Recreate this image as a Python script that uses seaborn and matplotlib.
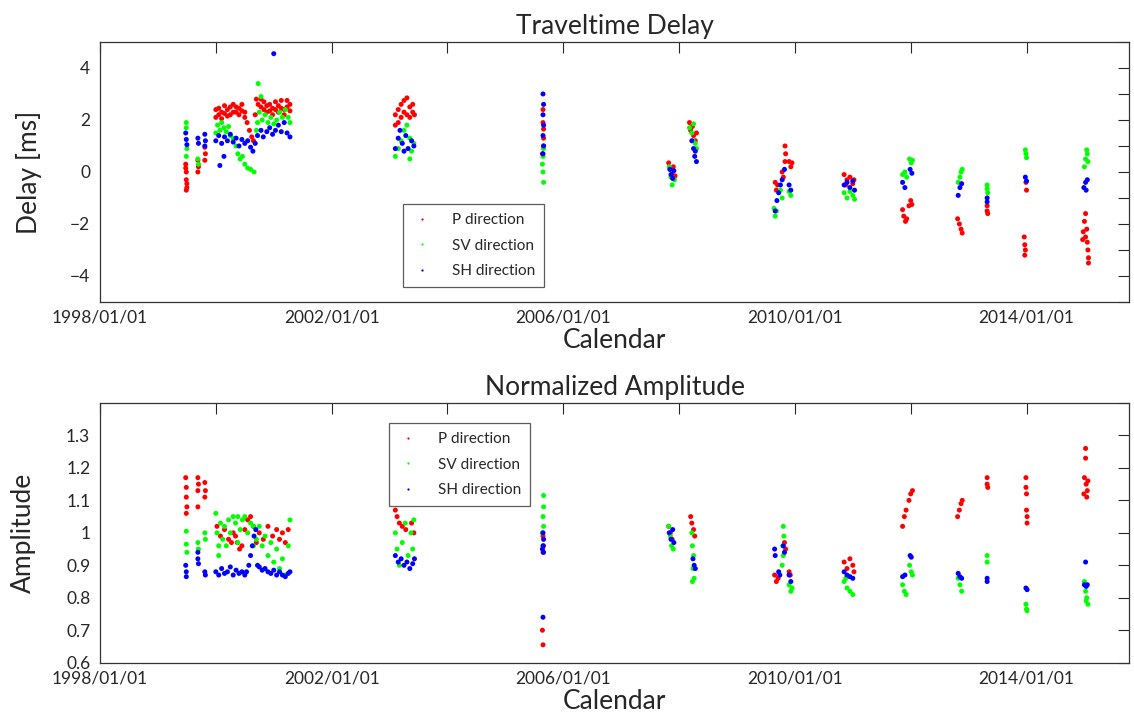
import pandas as pd
import seaborn as sns
import matplotlib.pyplot as plt
from matplotlib.ticker import FixedLocator, FuncFormatter

# (decimal year, delay in ms)
delay_p = [
    (1999.48, 0.3), (1999.49, 0.0), (1999.49, -0.3), (1999.50, -0.6), (1999.49, -0.7), (1999.48, 0.15), (1999.50, -0.45),
    (1999.69, 0.45), (1999.70, 0.2), (1999.69, 0.0),
    (1999.81, 0.95), (1999.82, 0.7), (1999.81, 0.45),
    (2000.00, 2.1), (2000.00, 2.4), (2000.05, 2.2), (2000.05, 2.45), (2000.10, 2.3), (2000.10, 2.05),
    (2000.15, 2.25), (2000.15, 2.55), (2000.20, 2.4), (2000.20, 2.15), (2000.25, 2.5), (2000.25, 2.2),
    (2000.30, 2.6), (2000.30, 2.3), (2000.35, 2.3), (2000.35, 2.5), (2000.40, 2.2), (2000.40, 2.45),
    (2000.45, 2.35), (2000.45, 2.6), (2000.50, 2.3), (2000.50, 2.1),
    (2000.54, 1.9), (2000.58, 1.6), (2000.62, 1.35), (2000.65, 1.2),
    (2000.68, 2.2), (2000.70, 2.8), (2000.73, 2.6), (2000.78, 2.5), (2000.78, 2.8), (2000.83, 2.4), (2000.83, 2.7),
    (2000.88, 2.3), (2000.88, 2.55), (2000.93, 2.35), (2000.93, 2.6), (2000.98, 2.2), (2000.98, 2.45),
    (2001.03, 2.4), (2001.03, 2.7), (2001.08, 2.3), (2001.08, 2.55), (2001.13, 2.45), (2001.13, 2.75),
    (2001.18, 2.4), (2001.18, 2.2), (2001.23, 2.5), (2001.23, 2.75), (2001.28, 2.35), (2001.28, 2.6),
    (2003.10, 1.8), (2003.10, 2.2), (2003.15, 1.9), (2003.15, 2.4), (2003.20, 2.1), (2003.20, 2.6),
    (2003.25, 2.3), (2003.25, 2.75), (2003.30, 2.2), (2003.30, 2.85), (2003.35, 2.5), (2003.35, 2.1),
    (2003.40, 2.3), (2003.40, 2.6), (2003.43, 2.2),
    (2005.65, 2.4), (2005.66, 1.65), (2005.65, 1.9), (2005.66, 1.0), (2005.64, 0.7), (2005.66, 1.3),
    (2007.82, 0.35), (2007.85, 0.1), (2007.88, -0.1), (2007.90, 0.2), (2007.93, -0.15),
    (2008.18, 1.9), (2008.20, 1.6), (2008.23, 1.75), (2008.25, 1.4), (2008.28, 1.2), (2008.30, 1.5),
    (2009.66, -0.4), (2009.68, -0.7), (2009.70, -0.5), (2009.78, 0.0), (2009.80, -0.2), (2009.83, 1.0),
    (2009.84, 0.7), (2009.83, 0.4), (2009.90, 0.4), (2009.93, 0.2), (2009.95, 0.35),
    (2010.85, -0.1), (2010.90, -0.3), (2010.95, -0.2), (2011.00, -0.45), (2011.02, -0.3), (2010.88, -0.5),
    (2011.86, -1.45), (2011.88, -1.7), (2011.91, -1.9), (2011.93, -1.8), (2011.97, -1.3), (2012.00, -1.1), (2012.02, -1.25),
    (2012.81, -1.8), (2012.84, -2.0), (2012.87, -2.2), (2012.89, -2.35),
    (2013.32, -1.3), (2013.32, -1.5), (2013.33, -1.6),
    (2013.99, -0.4), (2014.00, -0.7), (2013.96, -2.5), (2013.97, -2.8), (2013.98, -3.0), (2013.97, -3.2),
    (2015.02, -1.6), (2015.00, -1.9), (2014.98, -2.3), (2015.02, -2.5), (2015.05, -2.7), (2014.97, -2.6),
    (2015.04, -2.2), (2015.06, -3.0), (2015.07, -3.3), (2015.07, -3.5),
]
delay_sv = [
    (1999.49, 1.9), (1999.49, 1.7), (1999.50, 0.9), (1999.49, 0.6),
    (1999.69, 0.5), (1999.70, 0.3),
    (2000.00, 1.5), (2000.03, 1.8), (2000.07, 1.6), (2000.10, 1.9), (2000.14, 1.7), (2000.18, 1.55),
    (2000.22, 1.75), (2000.25, 1.4),
    (2000.30, 1.3), (2000.35, 1.0), (2000.38, 0.7), (2000.42, 0.5), (2000.46, 0.6), (2000.50, 0.3),
    (2000.55, 0.15), (2000.60, 0.1), (2000.66, 0.0),
    (2000.70, 1.6), (2000.72, 1.9), (2000.75, 2.3), (2000.80, 2.0), (2000.85, 2.2), (2000.90, 1.9),
    (2000.95, 2.1), (2001.00, 1.85), (2001.05, 2.0), (2001.10, 2.3), (2001.15, 2.1), (2001.20, 2.4),
    (2001.25, 2.1), (2001.28, 1.9), (2000.73, 3.4), (2000.78, 2.9),
    (2003.10, 0.6), (2003.15, 0.9), (2003.20, 1.2), (2003.25, 1.6), (2003.30, 1.8), (2003.35, 1.3),
    (2003.38, 0.8), (2003.42, 1.1), (2003.35, 0.5),
    (2005.66, 0.9), (2005.65, 0.6), (2005.64, 0.3), (2005.65, 0.0), (2005.66, -0.4),
    (2007.83, 0.2), (2007.86, -0.2), (2007.88, -0.5), (2007.92, -0.3),
    (2008.18, 1.7), (2008.22, 1.5), (2008.25, 1.85), (2008.28, 1.1), (2008.30, 0.9), (2008.24, 1.2),
    (2009.64, -1.4), (2009.66, -1.7), (2009.68, -1.5), (2009.75, -0.7), (2009.78, -1.0), (2009.90, -0.75), (2009.93, -0.9),
    (2010.85, -0.8), (2010.90, -1.0), (2010.95, -0.75), (2011.00, -0.9), (2011.03, -1.05),
    (2011.86, -0.1), (2011.90, 0.0), (2011.93, -0.2), (2011.98, 0.5), (2012.01, 0.35), (2012.03, 0.45),
    (2012.82, -0.4), (2012.85, -0.2), (2012.87, 0.0), (2012.89, 0.1),
    (2013.32, -0.5), (2013.32, -0.65), (2013.33, -0.8),
    (2013.98, 0.85), (2013.99, 0.7), (2014.00, 0.55),
    (2015.00, 0.2), (2015.02, 0.5), (2015.04, 0.85), (2015.06, 0.4), (2015.05, 0.7),
]
delay_sh = [
    (1999.48, 1.5), (1999.49, 1.25), (1999.50, 1.05),
    (1999.69, 1.3), (1999.70, 1.1),
    (1999.81, 1.45), (1999.82, 1.2), (1999.81, 1.0),
    (2000.00, 1.2), (2000.05, 1.4), (2000.10, 1.1), (2000.15, 1.35), (2000.20, 1.2), (2000.25, 1.45),
    (2000.30, 1.15), (2000.35, 1.3), (2000.40, 1.0), (2000.45, 1.25), (2000.50, 1.1), (2000.55, 1.2),
    (2000.60, 0.95), (2000.64, 0.8), (2000.68, 1.1), (2000.72, 1.4), (2000.78, 1.6), (2000.82, 1.35),
    (2000.88, 1.55), (2000.93, 1.7), (2000.98, 1.45), (2001.03, 1.6), (2001.08, 1.8), (2001.13, 1.55),
    (2001.18, 1.9), (2001.23, 1.5), (2001.28, 1.35), (2001.00, 4.55), (2000.07, 0.25), (2000.14, 0.6),
    (2003.10, 0.9), (2003.15, 1.3), (2003.18, 1.6), (2003.22, 1.1), (2003.28, 1.4), (2003.32, 0.9),
    (2003.38, 1.2), (2003.42, 1.0), (2003.25, 0.8),
    (2005.65, 3.0), (2005.66, 2.6), (2005.65, 2.2), (2005.66, 1.8), (2005.65, 1.4), (2005.66, 1.0), (2005.65, 0.7),
    (2007.84, 0.1), (2007.86, -0.1), (2007.89, -0.25), (2007.91, 0.05),
    (2008.22, 1.2), (2008.25, 0.9), (2008.27, 0.6), (2008.30, 0.4), (2008.28, 0.8),
    (2009.66, -1.5), (2009.69, -1.1), (2009.72, -0.8), (2009.75, -0.5), (2009.78, -0.3), (2009.82, 0.1),
    (2009.90, -0.5), (2009.93, -0.7),
    (2010.85, -0.5), (2010.90, -0.4), (2010.95, -0.6), (2011.00, -0.35), (2011.03, -0.7),
    (2011.86, -0.4), (2011.90, -0.6), (2011.99, 0.1), (2012.02, -0.05),
    (2012.82, -0.9), (2012.85, -0.6), (2012.88, -0.45),
    (2013.32, -1.0), (2013.32, -1.15),
    (2013.98, -0.2), (2014.00, -0.35),
    (2014.99, -0.6), (2015.02, -0.4), (2015.05, -0.3), (2015.03, -0.7),
]

# (decimal year, normalized amplitude)
amp_p = [
    (1999.48, 1.17), (1999.49, 1.14), (1999.49, 1.11), (1999.50, 1.08), (1999.49, 1.06),
    (1999.69, 1.17), (1999.70, 1.15), (1999.69, 1.13), (1999.69, 1.08),
    (1999.81, 1.155), (1999.82, 1.13), (1999.81, 1.11),
    (2000.02, 1.02), (2000.08, 0.99), (2000.15, 1.01), (2000.22, 0.98), (2000.27, 0.97), (2000.30, 1.0),
    (2000.34, 0.99), (2000.37, 0.97), (2000.41, 0.95), (2000.45, 0.96), (2000.50, 1.01), (2000.55, 1.04),
    (2000.60, 1.05), (2000.65, 1.02), (2000.70, 0.97), (2000.75, 1.0), (2000.82, 0.98), (2000.90, 1.02),
    (2000.98, 0.99), (2001.05, 1.01), (2001.10, 0.98), (2001.15, 1.0), (2001.20, 0.97), (2001.25, 1.01),
    (2003.10, 1.07), (2003.13, 1.05), (2003.17, 1.03), (2003.22, 1.02), (2003.28, 1.01), (2003.38, 1.03), (2003.42, 1.0),
    (2005.65, 0.99), (2005.66, 0.96), (2005.65, 0.94), (2005.64, 0.70), (2005.65, 0.655),
    (2007.82, 1.02), (2007.85, 1.0), (2007.88, 0.98),
    (2008.20, 1.05), (2008.22, 1.03), (2008.25, 1.01), (2008.27, 0.99),
    (2009.65, 0.87), (2009.68, 0.85), (2009.71, 0.86), (2009.82, 0.97), (2009.84, 0.95), (2009.90, 0.88), (2009.92, 0.87),
    (2010.85, 0.91), (2010.90, 0.89), (2010.95, 0.92), (2011.00, 0.9), (2011.02, 0.88),
    (2011.86, 1.02), (2011.89, 1.05), (2011.92, 1.07), (2011.97, 1.10), (2012.00, 1.12), (2012.03, 1.13),
    (2012.81, 1.05), (2012.84, 1.07), (2012.87, 1.09), (2012.89, 1.1),
    (2013.32, 1.17), (2013.32, 1.15), (2013.33, 1.14),
    (2013.99, 1.17), (2013.99, 1.14), (2014.00, 1.12), (2014.00, 1.07), (2014.01, 1.05), (2014.01, 1.03),
    (2015.02, 1.26), (2015.02, 1.23), (2015.00, 1.17), (2015.03, 1.15), (2015.05, 1.13), (2014.99, 1.12),
    (2015.06, 1.16), (2015.04, 1.11),
]
amp_sv = [
    (1999.49, 1.005), (1999.49, 0.965), (1999.50, 0.94),
    (1999.69, 0.97), (1999.70, 0.95),
    (1999.81, 1.0), (1999.82, 0.98),
    (2000.00, 1.06), (2000.02, 1.0), (2000.05, 0.96), (2000.08, 1.03), (2000.12, 0.98), (2000.15, 1.02),
    (2000.18, 0.96), (2000.22, 1.04), (2000.25, 1.0), (2000.30, 1.05), (2000.34, 1.03), (2000.38, 1.05),
    (2000.42, 1.01), (2000.46, 1.04), (2000.50, 1.05), (2000.55, 1.0), (2000.60, 1.03), (2000.65, 1.02),
    (2000.70, 0.98), (2000.75, 1.02), (2000.80, 0.96), (2000.85, 0.99), (2000.90, 0.93), (2000.95, 0.97),
    (2001.00, 0.91), (2001.05, 0.95), (2001.10, 0.89), (2001.15, 0.92), (2001.20, 0.87), (2001.25, 0.96),
    (2001.28, 1.04), (2000.05, 0.93), (2000.38, 0.97), (2000.65, 0.96),
    (2003.10, 1.0), (2003.13, 0.95), (2003.17, 0.9), (2003.22, 0.97), (2003.27, 1.03), (2003.32, 0.93),
    (2003.37, 1.0), (2003.42, 1.04), (2003.40, 0.95),
    (2005.66, 1.115), (2005.66, 1.08), (2005.65, 1.05), (2005.66, 1.02), (2005.64, 1.0),
    (2007.82, 1.02), (2007.85, 0.99), (2007.87, 0.96), (2007.90, 0.95),
    (2008.22, 1.0), (2008.23, 0.96), (2008.25, 0.93), (2008.24, 0.89), (2008.26, 0.86), (2008.23, 0.85),
    (2009.80, 1.02), (2009.81, 0.99), (2009.79, 0.96), (2009.80, 0.93), (2009.78, 0.9), (2009.90, 0.84),
    (2009.93, 0.82), (2009.95, 0.83),
    (2010.85, 0.85), (2010.90, 0.83), (2010.95, 0.82), (2011.00, 0.81), (2010.88, 0.86),
    (2011.86, 0.84), (2011.89, 0.82), (2011.92, 0.81), (2011.98, 0.9), (2012.01, 0.88), (2012.03, 0.87),
    (2012.82, 0.86), (2012.85, 0.84), (2012.88, 0.82),
    (2013.32, 0.93), (2013.32, 0.91),
    (2013.99, 0.78), (2014.00, 0.765), (2014.01, 0.76),
    (2015.00, 0.85), (2015.02, 0.82), (2015.04, 0.80), (2015.06, 0.78), (2015.03, 0.79),
]
amp_sh = [
    (1999.48, 0.9), (1999.49, 0.88), (1999.49, 0.865),
    (1999.69, 0.94), (1999.69, 0.92), (1999.70, 0.905),
    (1999.81, 0.88), (1999.82, 0.87),
    (2000.00, 0.88), (2000.05, 0.87), (2000.10, 0.89), (2000.15, 0.875), (2000.20, 0.88), (2000.25, 0.895),
    (2000.30, 0.87), (2000.35, 0.885), (2000.40, 0.875), (2000.45, 0.88), (2000.50, 0.87), (2000.53, 0.88),
    (2000.57, 0.9), (2000.60, 0.93), (2000.63, 0.96), (2000.66, 0.99), (2000.69, 1.01), (2000.72, 0.9),
    (2000.75, 0.895), (2000.80, 0.885), (2000.85, 0.89), (2000.90, 0.88), (2000.95, 0.875), (2001.00, 0.885),
    (2001.05, 0.87), (2001.10, 0.88), (2001.15, 0.87), (2001.20, 0.865), (2001.25, 0.875), (2001.28, 0.88),
    (2003.10, 0.93), (2003.15, 0.91), (2003.20, 0.92), (2003.25, 0.9), (2003.30, 0.91), (2003.35, 0.89),
    (2003.40, 0.905), (2003.43, 0.92),
    (2005.65, 1.0), (2005.66, 0.98), (2005.65, 0.96), (2005.66, 0.94), (2005.64, 0.95), (2005.65, 0.74),
    (2007.83, 1.0), (2007.86, 0.98), (2007.89, 1.01), (2007.91, 0.97),
    (2008.24, 0.92), (2008.26, 0.9), (2008.28, 0.89),
    (2009.65, 0.95), (2009.66, 0.93), (2009.72, 0.88), (2009.74, 0.87), (2009.80, 0.96), (2009.82, 0.94),
    (2009.90, 0.87), (2009.93, 0.85),
    (2010.85, 0.88), (2010.90, 0.87), (2010.95, 0.865), (2011.00, 0.86),
    (2011.86, 0.865), (2011.90, 0.87), (2011.99, 0.93), (2012.01, 0.925),
    (2012.82, 0.875), (2012.85, 0.865), (2012.88, 0.86),
    (2013.32, 0.86), (2013.32, 0.85),
    (2013.99, 0.83), (2014.01, 0.825),
    (2015.02, 0.91), (2015.00, 0.84), (2015.03, 0.835), (2015.05, 0.84),
]

directions = ['P direction', 'SV direction', 'SH direction']
colors = ['#ff0000', '#00ff00', '#0000ff']
tick_years = [1998, 2000, 2002, 2004, 2006, 2008, 2010, 2012, 2014]
tick_names = ['1998/01/01', '', '2002/01/01', '', '2006/01/01', '', '2010/01/01', '', '2014/01/01']
amp_ticks = [0.6, 0.7, 0.8, 0.9, 1.0, 1.1, 1.2, 1.3, 1.4]
amp_names = ['0.6', '0.7', '0.8', '0.9', '1', '1.1', '1.2', '1.3', '']


def make_frame(series):
    rows = []
    for name, pts in zip(directions, series):
        for yr, v in pts:
            rows.append({'year': yr, 'value': v, 'direction': name})
    return pd.DataFrame(rows)


def style_axis(ax, title, ylabel, label_x):
    ax.set_xlim(1998, 2015.77)
    ax.xaxis.set_major_locator(FixedLocator(tick_years))
    ax.set_xticklabels(tick_names)
    ax.tick_params(direction='in', length=8, width=0.8, top=True, right=True, labelsize=12.5)
    ax.tick_params(axis='x', pad=5.5)
    ax.tick_params(axis='y', pad=7)
    for s in ax.spines.values():
        s.set_linewidth(0.9)
        s.set_color('#333333')
    ax.set_title(title, fontsize=19, pad=6)
    ax.set_xlabel('Calendar', fontsize=19, labelpad=2)
    ax.set_ylabel(ylabel, fontsize=19)
    ax.yaxis.set_label_coords(label_x, 0.5)


def place_legend(ax, anchor):
    sns.move_legend(ax, 'upper left', bbox_to_anchor=anchor, title=None, frameon=True,
                    fancybox=False, edgecolor='#333333', fontsize=11, handletextpad=1.3,
                    borderpad=0.6, labelspacing=0.75, markerscale=0.45, handlelength=1.3,
                    borderaxespad=0)
    ax.get_legend().get_frame().set_linewidth(0.9)


sns.set_style('white')
plt.rcParams['font.family'] = ['Lato', 'DejaVu Sans']
plt.rcParams['axes.unicode_minus'] = True

fig = plt.figure(figsize=(11.34, 7.2), dpi=100)
ax1 = fig.add_axes([0.0882, 0.5806, 0.9074, 0.3611])
ax2 = fig.add_axes([0.0882, 0.0796, 0.9074, 0.3607])

pal = dict(zip(directions, colors))

df1 = make_frame([delay_p, delay_sv, delay_sh])
sns.scatterplot(data=df1, x='year', y='value', hue='direction', palette=pal, ax=ax1,
                s=13, linewidth=0, marker='o')
style_axis(ax1, 'Traveltime Delay', 'Delay [ms]', -0.056)
ax1.set_ylim(-5, 5)
ax1.yaxis.set_major_locator(FixedLocator(list(range(-5, 6))))
ax1.yaxis.set_major_formatter(FuncFormatter(
    lambda v, p: f'{int(v)}'.replace('-', '\u2212') if int(v) % 2 == 0 and abs(v) < 5 else ''))
place_legend(ax1, (0.2945, 0.376))

df2 = make_frame([amp_p, amp_sv, amp_sh])
sns.scatterplot(data=df2, x='year', y='value', hue='direction', palette=pal, ax=ax2,
                s=13, linewidth=0, marker='o')
style_axis(ax2, 'Normalized Amplitude', 'Amplitude', -0.062)
ax2.set_ylim(0.6, 1.4)
ax2.yaxis.set_major_locator(FixedLocator(amp_ticks))
ax2.set_yticklabels(amp_names)
place_legend(ax2, (0.281, 0.923))

fig.savefig('out.png', dpi=100)
